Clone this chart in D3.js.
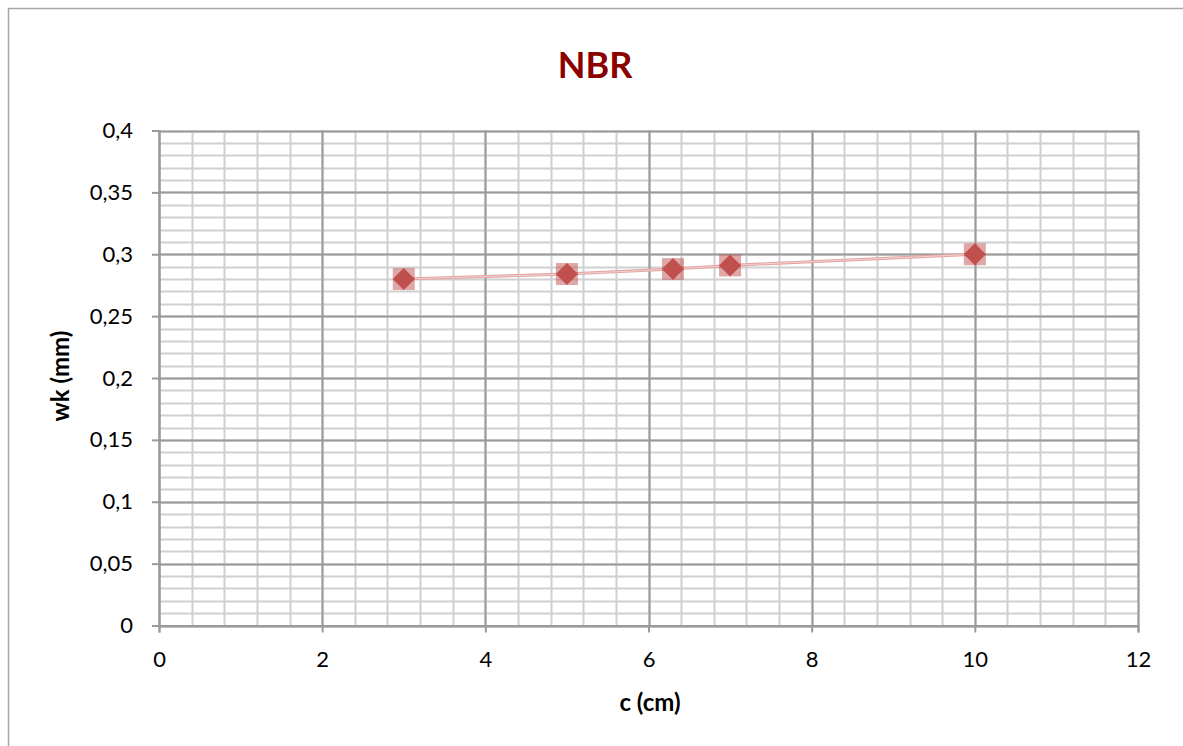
<!DOCTYPE html>
<html><head><meta charset="utf-8">
<script src="https://cdn.jsdelivr.net/npm/d3@7"></script>
<style>
html,body{margin:0;padding:0;background:#fff;}
svg{display:block;font-family:Lato,"Open Sans",sans-serif;}
</style></head>
<body>
<svg id="chart" width="1183" height="746"></svg>
<script>
const title = "NBR";
const xLabel = "c (cm)";
const yLabel = "wk (mm)";
const cValues = [3, 5, 6.3, 7, 10];
const wkValues = [0.280, 0.284, 0.288, 0.291, 0.300];
const xTicks = [0, 2, 4, 6, 8, 10, 12];
const yTicks = [0, 0.05, 0.1, 0.15, 0.2, 0.25, 0.3, 0.35, 0.4];

const svg = d3.select("#chart");
const L = 159, R = 1138, T = 130.5, B = 625.5;
const x = d3.scaleLinear().domain([0, 12]).range([L, R]);
const y = d3.scaleLinear().domain([0, 0.4]).range([B, T]);

// outer border
svg.append("rect").attr("x", 8.5).attr("y", 8.5).attr("width", 1190).attr("height", 760)
  .attr("fill", "none").attr("stroke", "#a6a6a6").attr("stroke-width", 1.5);

// minor grid
const g = svg.append("g");
const xMinor = d3.range(0, 12.0001, 0.4);
const yMinor = d3.range(0, 0.40001, 0.01);
g.selectAll(".xm").data(xMinor).join("line")
  .attr("x1", d => Math.round(x(d)) + 0.5).attr("x2", d => Math.round(x(d)) + 0.5)
  .attr("y1", T).attr("y2", B).attr("stroke", "#d0d0d0").attr("stroke-width", 2);
g.selectAll(".ym").data(yMinor).join("line")
  .attr("y1", d => Math.round(y(d)) + 0.5).attr("y2", d => Math.round(y(d)) + 0.5)
  .attr("x1", L).attr("x2", R).attr("stroke", "#d0d0d0").attr("stroke-width", 2);
// major grid
g.selectAll(".xM").data(xTicks).join("line")
  .attr("x1", d => Math.round(x(d)) + 0.5).attr("x2", d => Math.round(x(d)) + 0.5)
  .attr("y1", T).attr("y2", B).attr("stroke", "#9a9a9a").attr("stroke-width", 2);
g.selectAll(".yM").data(yTicks).join("line")
  .attr("y1", d => Math.round(y(d)) + 0.5).attr("y2", d => Math.round(y(d)) + 0.5)
  .attr("x1", L).attr("x2", R).attr("stroke", "#9a9a9a").attr("stroke-width", 2);

// axes
const fmt = d => String(+d.toFixed(2)).replace(".", ",");
const xAxis = svg.append("g").attr("transform", `translate(0,${B})`)
  .call(d3.axisBottom(x).tickValues(xTicks).tickFormat(fmt).tickSize(7).tickPadding(19));
const yAxis = svg.append("g").attr("transform", `translate(${L},0)`)
  .call(d3.axisLeft(y).tickValues(yTicks).tickFormat(fmt).tickSize(7).tickPadding(19));
[xAxis, yAxis].forEach(a => {
  a.select(".domain").attr("stroke", "#9a9a9a").attr("stroke-width", 2);
  a.selectAll(".tick line").attr("stroke", "#9a9a9a").attr("stroke-width", 2);
  a.selectAll("text").attr("font-size", 22).attr("fill", "#000").attr("font-family", "Lato, sans-serif");
});

// line
const line = d3.line().x((d, i) => x(cValues[i])).y(d => y(d));
svg.append("path").datum(wkValues).attr("d", line).attr("fill", "none")
  .attr("stroke", "#e3a3a1").attr("stroke-width", 3);
svg.append("path").datum(wkValues).attr("d", line).attr("fill", "none")
  .attr("stroke", "#f4dede").attr("stroke-width", 0.8);

// markers
const pts = svg.append("g").selectAll("g").data(wkValues).join("g")
  .attr("transform", (d, i) => `translate(${x(cValues[i])},${y(d)})`);
pts.append("rect").attr("x", -11).attr("y", -11).attr("width", 22).attr("height", 22)
  .attr("fill", "#c0504d").attr("fill-opacity", 0.5);
pts.append("path").attr("d", "M0,-11L11,0L0,11L-11,0Z").attr("fill", "#c0504d");

// title and labels
svg.append("text").attr("x", 595).attr("y", 78).attr("text-anchor", "middle")
  .attr("font-size", 36).attr("font-weight", "bold").attr("fill", "#8b0000").text(title);
svg.append("text").attr("x", 650).attr("y", 711).attr("text-anchor", "middle")
  .attr("font-size", 24).attr("font-weight", "bold").attr("fill", "#000").text(xLabel);
svg.append("text").attr("transform", "translate(69,376) rotate(-90)").attr("text-anchor", "middle")
  .attr("font-size", 24).attr("font-weight", "bold").attr("fill", "#000").text(yLabel);
</script>
</body></html>
